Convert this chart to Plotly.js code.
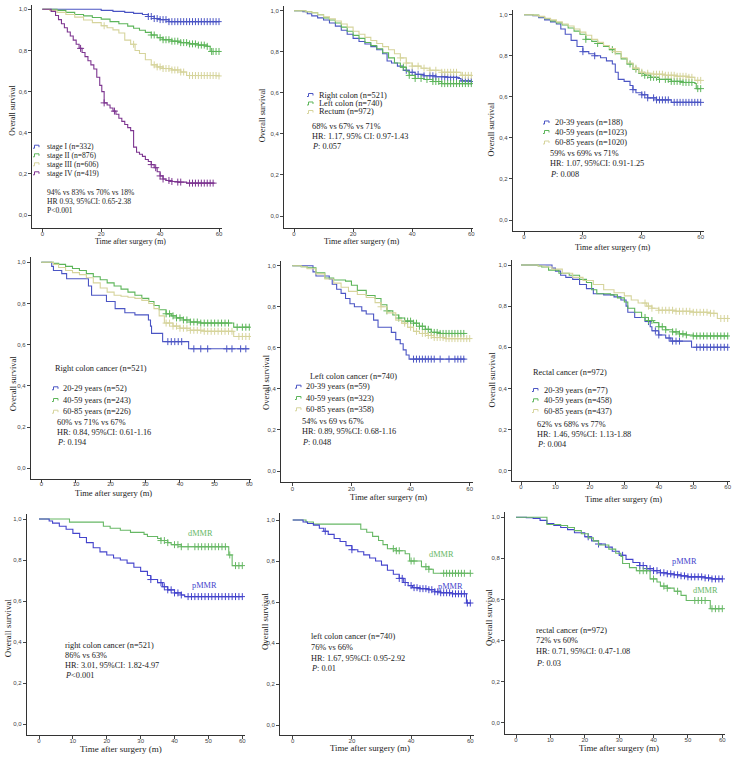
<!DOCTYPE html>
<html><head><meta charset="utf-8">
<script src="https://cdn.plot.ly/plotly-3.0.1.min.js"></script>
<style>html,body{margin:0;padding:0;background:#fff}#chart{width:735px;height:758px}</style>
</head><body><div id="chart"></div>
<script>
// ---------------- DATA ----------------
// Panel 1: stage
const p1_I_t   = [0,20,24,28,31,34,36,38,40,43,60];
const p1_I_s   = [1,0.995,0.99,0.985,0.98,0.975,0.965,0.955,0.95,0.94,0.94];
const p1_I_c   = [36,37,38,39,40,41,42,43,44,45,46,47,48,49,50,51,52,53,54,55,56,57,58,59,60];
const p1_II_t  = [0,5,8,11,14,17,20,23,26,29,31,33,35,37,39,41,44,47,50,53,56,57,60];
const p1_II_s  = [1,0.995,0.985,0.975,0.968,0.96,0.952,0.94,0.93,0.918,0.908,0.898,0.888,0.875,0.862,0.852,0.845,0.838,0.832,0.826,0.82,0.795,0.795];
const p1_II_c  = [37,38,40,41,42,43,44,45,46,47,48,49,50,51,52,53,54,55,56,57.5,58,59,60];
const p1_III_t = [0,2.5,5,8,11,14,17,20,22,24,26,28,30,31.5,33,35,37,39,41,44,47,49,60];
const p1_III_s = [1,0.995,0.985,0.975,0.962,0.948,0.935,0.92,0.91,0.9,0.885,0.85,0.83,0.8,0.785,0.755,0.73,0.72,0.712,0.705,0.695,0.678,0.676];
const p1_III_c = [21,31,38,39,40,41,42,43,44,45,46,47,48,50,51,52,53,54,55,56,57,58,59,60];
const p1_IV_t  = [0,3,4.5,5.5,6.5,7.5,8.5,9.5,10.5,11.5,12.5,13.5,14.5,15.5,16.5,17.5,18.5,19.5,20.2,21,22,23,24,25,26,27,28,29,30,31,32,33,34,35,36,37,38,39,40,41,42,44,46,49,58.5];
const p1_IV_s  = [1,0.99,0.97,0.95,0.93,0.91,0.89,0.87,0.85,0.83,0.81,0.79,0.77,0.75,0.73,0.71,0.67,0.63,0.6,0.545,0.535,0.52,0.505,0.49,0.47,0.455,0.44,0.425,0.41,0.33,0.305,0.295,0.285,0.27,0.26,0.245,0.23,0.21,0.19,0.175,0.168,0.163,0.16,0.155,0.155];
const p1_IV_c  = [13,21,24.5,37,38.5,40,41,43,44,46,47,50,51,52,53,54,55,56,57,58];

// Panel 2: tumour site
const p2_R_t = [0,3,4.5,6,8,10,12,14,16,18,20,22,24,26,28,30,31.5,33,35,37,39,41,44,48,52,55.5,56.5,60];
const p2_R_s = [1,0.995,0.985,0.975,0.965,0.955,0.94,0.925,0.905,0.885,0.865,0.85,0.838,0.825,0.81,0.79,0.755,0.745,0.73,0.71,0.7,0.69,0.683,0.678,0.675,0.67,0.658,0.655];
const p2_R_c = [38,40,42,44,46,47,48,50,51,52,53,54,55,57,58,59,60];
const p2_L_t = [0,4,6,8,10,12,14,16,18,20,22,24,26,28,30,32,34,36,38,39,41,44,47,50,60];
const p2_L_s = [1,0.995,0.99,0.98,0.965,0.955,0.94,0.92,0.9,0.88,0.865,0.845,0.83,0.815,0.795,0.77,0.745,0.725,0.705,0.685,0.67,0.665,0.655,0.645,0.645];
const p2_L_c = [37,39,41,43,45,47,48,49,50,51,52,53,54,55,56,57,58,59,60];
const p2_Re_t = [0,4,6,8,10,12,14,16,18,20,22,24,26,28,30,32,34,36,38,40,43,46,50,56.5,60];
const p2_Re_s = [1,0.995,0.99,0.98,0.97,0.96,0.95,0.935,0.92,0.9,0.885,0.87,0.855,0.84,0.825,0.81,0.79,0.77,0.745,0.73,0.72,0.71,0.7,0.685,0.685];
const p2_Re_c = [36,38,40,42,44,46,48,50,51,52,53,54,55,57,58,59,60];

// Panel 3: age groups
const p3_A_t = [0,3,5,7,9,11,12.5,14,16,18,20,22,24,26,28,30,31,32,34,36,37,38,40,42,45,50,60];
const p3_A_s = [1,0.995,0.985,0.975,0.965,0.955,0.93,0.905,0.875,0.845,0.82,0.81,0.8,0.79,0.775,0.76,0.72,0.685,0.675,0.655,0.635,0.62,0.61,0.595,0.585,0.573,0.573];
const p3_A_c = [20,24,37,40,41,42,44,45,46,47,48,49,51,52,53,54,55,56,57,58,59,60];
const p3_B_t = [0,3,5,7,9,11,13,15,17,19,21,23,25,27,29,31,33,35,37,39,41,43,46,50,54,58,58.5,60];
const p3_B_s = [1,0.998,0.99,0.98,0.97,0.96,0.95,0.935,0.92,0.905,0.88,0.87,0.86,0.845,0.83,0.81,0.785,0.76,0.735,0.715,0.705,0.695,0.685,0.675,0.67,0.665,0.64,0.64];
const p3_B_c = [21,25,30,36,38,40,41,42,43,44,45,46,48,49,50,51,52,53,54,55,56,57,59,60];
const p3_C_t = [0,3,5,7,9,11,13,15,17,19,21,23,25,27,29,31,33,35,37,39,41,44,48,52,56,58,60];
const p3_C_s = [1,0.998,0.992,0.983,0.975,0.965,0.955,0.945,0.93,0.915,0.9,0.88,0.865,0.85,0.835,0.82,0.79,0.765,0.74,0.72,0.715,0.71,0.705,0.7,0.695,0.68,0.68];
const p3_C_c = [31,38,40,42,44,45,46,47,48,49,50,51,52,53,54,55,56,57,59,60];

// Panel 4: right colon cancer by age
const p4_A_t = [0,3,3.5,5.9,7.3,13.6,14.5,18.8,21.3,24.1,27,30.9,31.5,31.8,35,42.5,60];
const p4_A_s = [1,0.98,0.96,0.945,0.92,0.885,0.84,0.81,0.775,0.755,0.745,0.72,0.69,0.655,0.615,0.58,0.58];
const p4_A_c = [36.5,37.5,38.5,39.5,40.5,44,46,48,53.5,55,57.5,59];
const p4_B_t = [0,3.5,5,7,9,11,13,15,17,19,21,23,25,27,29,31,32.5,34,36,37.5,39,41,43,46,55.5,60];
const p4_B_s = [1,0.995,0.99,0.98,0.97,0.96,0.945,0.93,0.915,0.9,0.885,0.87,0.855,0.84,0.825,0.81,0.79,0.77,0.75,0.74,0.73,0.72,0.71,0.705,0.685,0.685];
const p4_B_c = [36,37,38,39,40,41,42,43,44,45,46,47,48,49,50,51,52,53,54,56.5,58,59,60];
const p4_C_t = [0,3.5,5,7,9,11,13,15,17,19,21,23,25,27,29,31,32.5,34,35.5,38,40,43,47,55.5,60];
const p4_C_s = [1,0.99,0.975,0.96,0.95,0.94,0.925,0.9,0.875,0.855,0.84,0.835,0.83,0.825,0.815,0.8,0.775,0.74,0.705,0.69,0.68,0.67,0.665,0.64,0.64];
const p4_C_c = [36,37,38,39,40,41,42,43,44,45,46,47,48,49,50,51,52,53,54,55,57,58,59,60];

// Panel 5: left colon cancer by age
const p5_A_t = [0,7,8,12.5,13.5,15,16.5,18,19.5,21,23.5,25,27.5,29,33.5,35,36.5,37.5,38.5,39.5,58.5];
const p5_A_s = [1,0.97,0.95,0.935,0.91,0.885,0.865,0.84,0.815,0.8,0.78,0.765,0.735,0.7,0.675,0.64,0.62,0.59,0.565,0.545,0.545];
const p5_A_c = [41,42,43,44,45,46,47,48,50,53,55,56,57,58];
const p5_B_t = [0,3,5,8,11,14,18,20,22,25,28,30,32,34,36,38,41,43,45,47,50,58.5];
const p5_B_s = [1,0.995,0.99,0.965,0.94,0.93,0.925,0.905,0.88,0.855,0.84,0.81,0.78,0.76,0.745,0.73,0.72,0.705,0.69,0.675,0.67,0.67];
const p5_B_c = [32,36,38,39,40,41,42,43,44,45,46,47,48,49,50,51,52,53,54,55,56,57,58];
const p5_C_t = [0,3,5,8,11,14,16.5,19,22,25,28,30,32,35,37,39,41,43,46,48,52,60];
const p5_C_s = [1,0.995,0.985,0.96,0.935,0.915,0.895,0.875,0.86,0.845,0.82,0.8,0.77,0.735,0.72,0.7,0.68,0.67,0.66,0.65,0.645,0.645];
const p5_C_c = [30,38,40,42,44,45,46,47,48,49,50,51,52,53,54,55,56,57,58,59,60];

// Panel 6: rectal cancer by age
const p6_A_t = [0,9,10,11.5,13,15,17,19,21,24,27,29,30.5,31,33,36,37.5,38,40,42,43.5,49.5,60];
const p6_A_s = [1,0.985,0.97,0.95,0.94,0.93,0.905,0.885,0.86,0.855,0.845,0.83,0.8,0.77,0.745,0.725,0.7,0.68,0.66,0.645,0.63,0.6,0.6];
const p6_A_c = [37,39,40,43,44,45,46,51,52,53,54,55,56,57,58,59,60];
const p6_B_t = [0,5,6,8,11,14,17,19,20.5,22,26,28,30,31,33,35,37,38.5,40,42,44,46,48,50,60];
const p6_B_s = [1,0.995,0.99,0.975,0.96,0.95,0.93,0.915,0.88,0.86,0.855,0.84,0.82,0.79,0.77,0.745,0.73,0.72,0.7,0.685,0.675,0.665,0.66,0.655,0.655];
const p6_B_c = [36,37,38,40,41,42,44,45,46,47,48,50,51,52,53,54,55,56,57,58,59,60];
const p6_C_t = [0,5,7,9,12,15,18,21,24,27,30,32,34,36.5,38,40,45,50,55,57,60];
const p6_C_s = [1,0.995,0.99,0.98,0.96,0.94,0.925,0.905,0.88,0.865,0.85,0.83,0.815,0.8,0.79,0.78,0.775,0.77,0.765,0.74,0.74];
const p6_C_c = [36,37,38,40,41,42,43,44,45,46,47,48,49,50,51,52,53,54,55,56,58,59,60];

// Panel 7: right colon cancer, MMR status
const p7_d_t = [0,9,19,21,24,27,31,32,35,36,38,39,42,56,57,60];
const p7_d_s = [1,0.985,0.965,0.955,0.945,0.935,0.925,0.915,0.905,0.895,0.885,0.875,0.865,0.825,0.773,0.773];
const p7_d_c = [36,37,38,40,41,42,44,46,47,48,49,50,51,52,53,54,55,56.3,58,59,60];
const p7_p_t = [0,3,4,6,8,10,12,14,16,18,20,22,24,26,28,30,32,33,35,36.5,38,40,42,43,60];
const p7_p_s = [1,0.99,0.98,0.965,0.95,0.93,0.91,0.885,0.86,0.84,0.825,0.81,0.8,0.785,0.765,0.745,0.725,0.705,0.69,0.67,0.655,0.64,0.63,0.622,0.622];
const p7_p_c = [33,36,37,38,39,40,41,42,44,45,46,47,48,49,50,51,52,53,54,55,56,57,58,59,60];

// Panel 8: left colon cancer, MMR status
const p8_d_t = [0,4.5,7,23,25,27,29,30.5,32,35,38,39.5,43.5,46,47.5,60];
const p8_d_s = [1,0.99,0.98,0.955,0.94,0.92,0.9,0.88,0.86,0.85,0.835,0.8,0.772,0.76,0.74,0.74];
const p8_d_c = [34,35,36,40,41,45,46,51,52,53,54,55,56,57,58,60];
const p8_p_t = [0,3.5,5,7,9,10.5,12,14,16,18,20,22,24,26,28,30,32,34,36,37.5,39,40.5,43,46,48,50,54,58.7,60];
const p8_p_s = [1,0.99,0.983,0.975,0.96,0.945,0.93,0.91,0.895,0.875,0.855,0.845,0.83,0.815,0.8,0.78,0.755,0.735,0.715,0.695,0.68,0.67,0.665,0.66,0.65,0.645,0.64,0.595,0.595];
const p8_p_c = [11,20,36,37,38,40,41,42,43,44,45,46,47,48,49,50,51,52,53,54,55,56,57,58,59,60];

// Panel 9: rectal cancer, MMR status
const p9_p_t = [0,3,5,7,9,11,13,15,17,20,22,24,26,28,30,32,34,36,38,40,42,44,46,48,50,55,57,60];
const p9_p_s = [1,0.998,0.995,0.985,0.97,0.96,0.95,0.94,0.925,0.905,0.885,0.87,0.855,0.835,0.815,0.795,0.78,0.765,0.75,0.74,0.73,0.725,0.72,0.715,0.71,0.705,0.7,0.7];
const p9_p_c = [21,24,31,36,37,38,39,40,41,42,43,44,45,46,47,48,49,50,51,52,53,54,55,56,57,58,59,60];
const p9_d_t = [0,9,13,15,17,19,21,22.5,24,27,29,30.5,31,33,35,39,41,42,44,46,48,49.5,56.5,60];
const p9_d_s = [1,0.965,0.96,0.95,0.935,0.92,0.9,0.885,0.865,0.845,0.825,0.81,0.775,0.755,0.74,0.7,0.685,0.665,0.655,0.64,0.62,0.595,0.555,0.555];
const p9_d_c = [36,37,38,40,43,44,47,52,53,54,55,57,58,59,60];

// Text content
const yTickVals = [0,0.2,0.4,0.6,0.8,1.0];
const yTickText = ['0,0','0,2','0,4','0,6','0,8','1,0'];
const xTicks20 = [0,20,40,60];
const xTicks10 = [0,10,20,30,40,50,60];
const xTitle = 'Time after surgery (m)';
const yTitle = 'Overall survival';

const legend1 = ['stage I (n=332)','stage II (n=876)','stage III (n=606)','stage IV (n=419)'];
const legend2 = ['Right colon (n=521)','Left colon (n=740)','Rectum (n=972)'];
const legend3 = ['20-39 years (n=188)','40-59 years (n=1023)','60-85 years (n=1020)'];
const legend4 = ['20-29 years (n=52)','40-59 years (n=243)','60-85 years (n=226)'];
const legend5 = ['20-39 years (n=59)','40-59 years (n=323)','60-85 years (n=358)'];
const legend6 = ['20-39 years (n=77)','40-59 years (n=458)','60-85 years (n=437)'];
const stats1 = ['94% vs 83% vs 70% vs 18%','HR 0.93, 95%CI: 0.65-2.38','P&lt;0.001'];
const stats2 = ['68% vs 67% vs 71%','HR: 1.17, 95% CI: 0.97-1.43','<i>P</i>: 0.057'];
const stats3 = ['59% vs 69% vs 71%','HR: 1.07, 95%CI: 0.91-1.25','<i>P</i>: 0.008'];
const stats4 = ['60% vs 71% vs 67%','HR: 0.84, 95%CI: 0.61-1.16','<i>P</i>: 0.194'];
const stats5 = ['54% vs 69 vs 67%','HR: 0.89, 95%CI: 0.68-1.16','<i>P</i>: 0.048'];
const stats6 = ['62% vs 68% vs 77%','HR: 1.46, 95%CI: 1.13-1.88','<i>P</i>: 0.004'];
const stats7 = ['right colon cancer (n=521)','86% vs 63%','HR: 3.01, 95%CI: 1.82-4.97','<i>P</i>&lt;0.001'];
const stats8 = ['left colon cancer (n=740)','76% vs 66%','HR: 1.67, 95%CI: 0.95-2.92','<i>P</i>: 0.01'];
const stats9 = ['rectal cancer (n=972)','72% vs 60%','HR: 0.71, 95%CI: 0.47-1.08','<i>P</i>: 0.03'];

// ---------------- STYLE / LAYOUT ----------------
const W = 735, H = 758;
const BLUE = '#4b55c4', GREEN = '#5db55a', YELLOW = '#d6d49c', PURPLE = '#7d3590';
const BLUE2 = '#4444cc', GREEN2 = '#67b865';
const SERIF = 'Liberation Serif, Times New Roman, serif';

// pixel geometry of each panel: value-0 / value-60 x pixel, value-1 / value-0 y pixel, axis box
const geo = [
  {x0:42.3, x60:219,   y1:9.3,   y0:215,   L:32.3, R:221.7, B:228,   T:5,   xt:xTicks20, so:-3},
  {x0:294,  x60:471.3, y1:10.7,  y0:216,   L:284,  R:473,   B:228,   T:6,   xt:xTicks20, so:-3},
  {x0:524,  x60:700.7, y1:14.7,  y0:220,   L:512.7,R:704,   B:230.7, T:10,  xt:xTicks20, so:-3},
  {x0:41.3, x60:249.3, y1:262.3, y0:468.3, L:30.7, R:251,   B:479.3, T:257, xt:xTicks10, so:-5},
  {x0:292.3,x60:469.7, y1:265.7, y0:471,   L:281,  R:472.5, B:482.3, T:261, xt:xTicks20, so:-3},
  {x0:521,  x60:727.7, y1:265,   y0:470.7, L:512,  R:730,   B:481,   T:260, xt:xTicks10, so:-3},
  {x0:39,   x60:242.3, y1:519,   y0:724.3, L:26.7, R:245,   B:735,   T:514, xt:xTicks10, so:-3},
  {x0:292.7,x60:470.3, y1:520,   y0:725,   L:280,  R:473.5, B:734.5, T:513, xt:xTicks20, so:-3},
  {x0:516,  x60:722.3, y1:517.3, y0:722.7, L:505,  R:725,   B:734,   T:512, xt:xTicks10, so:-3}
];

const series = [
  [1,p1_I_t,p1_I_s,p1_I_c,BLUE,legend1[0]],
  [1,p1_II_t,p1_II_s,p1_II_c,GREEN,legend1[1]],
  [1,p1_III_t,p1_III_s,p1_III_c,YELLOW,legend1[2]],
  [1,p1_IV_t,p1_IV_s,p1_IV_c,PURPLE,legend1[3]],
  [2,p2_R_t,p2_R_s,p2_R_c,BLUE,legend2[0]],
  [2,p2_L_t,p2_L_s,p2_L_c,GREEN,legend2[1]],
  [2,p2_Re_t,p2_Re_s,p2_Re_c,YELLOW,legend2[2]],
  [3,p3_A_t,p3_A_s,p3_A_c,BLUE,legend3[0]],
  [3,p3_B_t,p3_B_s,p3_B_c,GREEN,legend3[1]],
  [3,p3_C_t,p3_C_s,p3_C_c,YELLOW,legend3[2]],
  [4,p4_A_t,p4_A_s,p4_A_c,BLUE,legend4[0]],
  [4,p4_B_t,p4_B_s,p4_B_c,GREEN,legend4[1]],
  [4,p4_C_t,p4_C_s,p4_C_c,YELLOW,legend4[2]],
  [5,p5_A_t,p5_A_s,p5_A_c,BLUE,legend5[0]],
  [5,p5_B_t,p5_B_s,p5_B_c,GREEN,legend5[1]],
  [5,p5_C_t,p5_C_s,p5_C_c,YELLOW,legend5[2]],
  [6,p6_A_t,p6_A_s,p6_A_c,BLUE,legend6[0]],
  [6,p6_B_t,p6_B_s,p6_B_c,GREEN,legend6[1]],
  [6,p6_C_t,p6_C_s,p6_C_c,YELLOW,legend6[2]],
  [7,p7_d_t,p7_d_s,p7_d_c,GREEN2,'dMMR'],
  [7,p7_p_t,p7_p_s,p7_p_c,BLUE2,'pMMR'],
  [8,p8_d_t,p8_d_s,p8_d_c,GREEN2,'dMMR'],
  [8,p8_p_t,p8_p_s,p8_p_c,BLUE2,'pMMR'],
  [9,p9_p_t,p9_p_s,p9_p_c,BLUE2,'pMMR'],
  [9,p9_d_t,p9_d_s,p9_d_c,GREEN2,'dMMR']
];

function stepAt(ts, ss, t){ let v = ss[0]; for(let i=0;i<ts.length;i++){ if(ts[i] <= t) v = ss[i]; } return v; }

const traces = [];
series.forEach(([p,t,s,c,col,name])=>{
  const ax = 'x'+(p===1?'':p), ay = 'y'+(p===1?'':p);
  traces.push({type:'scatter',mode:'lines',x:t,y:s,xaxis:ax,yaxis:ay,name:name,showlegend:false,
    line:{color:col,width:1.1,shape:'hv'},hoverinfo:'skip'});
  traces.push({type:'scatter',mode:'markers',x:c,y:c.map(v=>stepAt(t,s,v)),xaxis:ax,yaxis:ay,name:name+' censored',showlegend:false,
    marker:{symbol:'cross-thin',size:5,color:col,line:{color:col,width:1}},hoverinfo:'skip'});
});

const layout = {width:W,height:H,margin:{l:0,r:0,t:0,b:0},paper_bgcolor:'#fff',plot_bgcolor:'rgba(0,0,0,0)',
  showlegend:false,annotations:[],shapes:[]};

geo.forEach((g,i)=>{
  const k = i+1, sx = (k===1?'':k);
  const pxPerX = (g.x60-g.x0)/60, pxPerY = (g.y0-g.y1);
  layout['xaxis'+sx] = {domain:[g.L/W,g.R/W],range:[(g.L-g.x0)/pxPerX,(g.R-g.x0)/pxPerX],anchor:'y'+k,
    showline:true,linecolor:'#333',linewidth:1,ticks:'outside',ticklen:3,tickcolor:'#444',tickwidth:1,
    ticklabelstandoff:g.so,
    tickvals:g.xt,ticktext:g.xt.map(String),tickfont:{family:'Liberation Sans, Arial',size:6,color:'#444'},
    showgrid:false,zeroline:false,fixedrange:true};
  layout['yaxis'+sx] = {domain:[1-g.B/H,1-g.T/H],range:[(g.y0-g.B)/pxPerY,(g.y0-g.T)/pxPerY],anchor:'x'+k,
    showline:true,linecolor:'#333',linewidth:1,ticks:'outside',ticklen:3,tickcolor:'#444',tickwidth:1,
    tickvals:yTickVals,ticktext:yTickText,tickfont:{family:'Liberation Sans, Arial',size:6,color:'#444'},
    showgrid:false,zeroline:false,fixedrange:true};
});

function txt(px,py,text,opt){
  opt = opt||{};
  layout.annotations.push({xref:'paper',yref:'paper',x:px/W,y:1-py/H,text:text,showarrow:false,
    xanchor:opt.xa||'left',yanchor:'middle',textangle:opt.rot||0,
    font:{family:SERIF,size:opt.size||8,color:opt.color||'#222'}});
}
function glyph(px,py,col){
  const X = v=>(v/W).toFixed(5), Y = v=>(1-v/H).toFixed(5);
  layout.shapes.push({type:'path',xref:'paper',yref:'paper',
    path:`M${X(px)},${Y(py+1.5)} L${X(px+1.5)},${Y(py+1.5)} L${X(px+1.5)},${Y(py-1.5)} L${X(px+6)},${Y(py-1.5)} L${X(px+6)},${Y(py+0.5)}`,
    line:{color:col,width:1}});
}
function legend(gx,tx,rows,labels,cols,size){
  labels.forEach((l,i)=>{ glyph(gx,rows[i],cols[i]); txt(tx,rows[i],l,{size:size}); });
}
function block(x,rows,lines,size){ lines.forEach((l,i)=>txt(x,rows[i],l,{size:size})); }

// axis titles
const xTitlePos = [[130,241],[362.3,241],[613,247],[113.7,492.5],[388.3,497.5],[623.3,498.5],[121,748.5],[369.7,748],[618.7,748]];
const yTitlePos = [[12.7,110],[263.3,115],[491.5,130],[13.3,383],[266,382],[491.5,380],[8.3,628],[265,622],[489,618]];
const titleSize = [7.8,8.3,8.3,8.5,8.5,8.5,9,8.8,8.8];
xTitlePos.forEach((p,i)=>txt(p[0],p[1],xTitle,{xa:'center',size:titleSize[i]}));
yTitlePos.forEach((p,i)=>txt(p[0],p[1],yTitle,{xa:'center',rot:-90,size:titleSize[i]}));

const C3 = [BLUE,GREEN,YELLOW], C4 = [BLUE,GREEN,YELLOW,PURPLE];
// panel 1
legend(33,45,[146.7,155.3,164.3,173.3],legend1,C4,7.6);
block(45,[192.7,201.3,210],stats1,7.6);
// panel 2
legend(307,316.7,[95,103.5,112],legend2,C3,8.3);
block(310,[126.7,136.7,146.7],stats2,8.3);
// panel 3
legend(543,552.7,[122.5,132,142.5],legend3,C3,8.3);
block(548.3,[154,164,174.3],stats3,8.3);
// panel 4
txt(53.3,368.3,'Right colon cancer (n=521)',{size:8.3});
legend(52,60.7,[388.3,400,411.7],legend4,C3,8.3);
block(55,[422.3,432.7,442.7],stats4,8.3);
// panel 5
txt(307.7,376,'Left colon cancer (n=740)',{size:8.3});
legend(295,304.3,[386.7,398,409.3],legend5,C3,8.3);
block(300,[421,431.7,442.3],stats5,8.3);
// panel 6
txt(530.7,372.3,'Rectal cancer (n=972)',{size:8.3});
legend(532,541.7,[390,400.3,411],legend6,C3,8.3);
block(535,[424,434,444.3],stats6,8.3);
// panels 7-9
block(62.7,[645,655,665,675],stats7,8.3);
txt(200,533.3,'dMMR',{xa:'center',size:8.3,color:GREEN2});
txt(205,585,'pMMR',{xa:'center',size:8.3,color:BLUE2});
block(309,[636.7,647,658,668.5],stats8,8.3);
txt(441.3,554.3,'dMMR',{xa:'center',size:8.3,color:GREEN2});
txt(450,586.7,'pMMR',{xa:'center',size:8.3,color:BLUE2});
block(534.3,[630,640.5,651.5,663],stats9,8.3);
txt(684,561.7,'pMMR',{xa:'center',size:8.3,color:BLUE2});
txt(705,590,'dMMR',{xa:'center',size:8.3,color:GREEN2});

Plotly.newPlot('chart',traces,layout,{staticPlot:true,displayModeBar:false});
</script></body></html>
